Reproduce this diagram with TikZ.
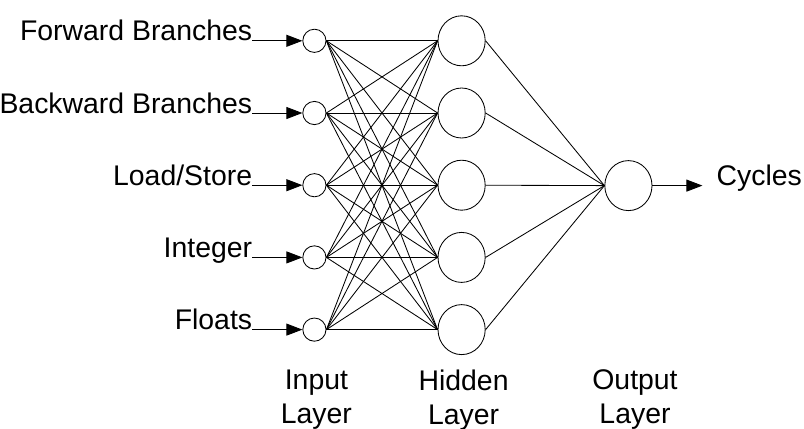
\documentclass[tikz,border=0pt]{standalone}
\usepackage{fontspec}
\setmainfont{Liberation Sans}
\usepackage{tikz}
\usetikzlibrary{arrows.meta, positioning, shapes.geometric}

\begin{document}
\begin{tikzpicture}[
  font=\fontsize{20.2}{24}\selectfont,
  inp/.style={draw, circle, minimum size=0.58cm, inner sep=0pt, line width=0.6pt},
  hid/.style={draw, ellipse, minimum width=1.18cm, minimum height=1.25cm,
              inner sep=0pt, line width=0.6pt},
  lbl/.style={inner sep=0pt},
  layer/.style={inner sep=0pt, align=center, anchor=north},
  feed/.style={-{Triangle[length=0.4cm, width=0.3cm]}, line width=0.6pt},
  link/.style={line width=0.6pt}
]
  \useasboundingbox (0,0) rectangle (20.1,-10.7);

  % input layer
  \node[inp] (in1) at (7.86,-1.02) {};
  \node[inp] (in2) at (7.86,-2.825) {};
  \node[inp] (in3) at (7.86,-4.63) {};
  \node[inp] (in4) at (7.86,-6.435) {};
  \node[inp] (in5) at (7.86,-8.24) {};

  % hidden layer
  \node[hid] (hid1) at (11.54,-1.02) {};
  \node[hid] (hid2) at (11.54,-2.825) {};
  \node[hid] (hid3) at (11.54,-4.63) {};
  \node[hid] (hid4) at (11.54,-6.435) {};
  \node[hid] (hid5) at (11.54,-8.24) {};

  % output layer
  \node[hid] (out) at (15.71,-4.64) {};

  \node[lbl, base left=1.25cm of in1] (fwd) {Forward Branches};
  \node[lbl, base left=1.25cm of in2] (bwd) {Backward Branches};
  \node[lbl, base left=1.25cm of in3] (ldst) {Load/Store};
  \node[lbl, base left=1.25cm of in4] (intg) {Integer};
  \node[lbl, base left=1.25cm of in5] (flts) {Floats};
  \node[lbl, base right=1.6cm of out] (cyc) {Cycles};

  \foreach \i in {1,...,5}
    \foreach \j in {1,...,5}
      \draw[link] (in\i.east) -- (hid\j.west);
  \foreach \j in {1,...,5}
    \draw[link] (hid\j.east) -- (out.west);

  \foreach \src/\i in {fwd/1, bwd/2, ldst/3, intg/4, flts/5}
    \draw[feed] (\src.base east) -- (in\i);
  \draw[feed, shorten >=0.35cm] (out) -- (cyc.base west);

  \node[layer] (inlayer) at (7.91,-9.24) {Input\\Layer};
  \node[layer] (hidlayer) at (11.59,-9.24) {Hidden\\Layer};
  \node[layer] (outlayer) at (15.875,-9.24) {Output\\Layer};
\end{tikzpicture}
\end{document}
